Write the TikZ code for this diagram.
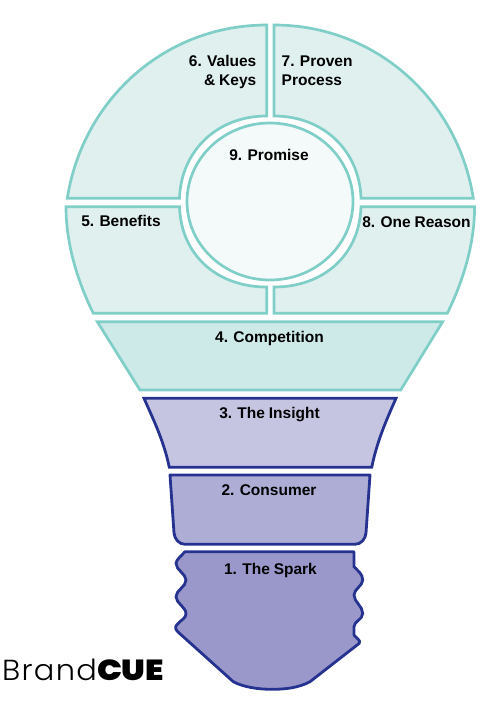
\documentclass[tikz,border=0pt]{standalone}
\usepackage{xcolor}
\usepackage{fontspec}
\setmainfont{Liberation Sans}[BoldFont={Liberation Sans Bold}, WordSpace=0.9]
\newfontfamily\brandlight{Poppins Light}[LetterSpace=4.5, FakeStretch=1.05]
\newfontfamily\brandblack{Poppins Black}[FakeStretch=1.14]
\usepackage{tikz}
\usetikzlibrary{positioning, shapes.geometric}
\definecolor{tealline}{HTML}{7FCFC8}
\definecolor{tealfill}{HTML}{DFF0EF}
\definecolor{tealdark}{HTML}{CDEAE8}
\definecolor{tealpale}{HTML}{F3FAF9}
\definecolor{navyline}{HTML}{26328F}
\definecolor{insightfill}{HTML}{C5C5E2}
\definecolor{consumerfill}{HTML}{AEADD6}
\definecolor{sparkfill}{HTML}{9A98CA}
\tikzset{
  bulbpart/.style={draw=tealline, line width=2.7pt, line join=miter},
  basepart/.style={draw=navyline, line width=2.8pt, line join=round},
  partlabel/.style={inner sep=0pt, anchor=base, font=\bfseries\fontsize{15.5}{19}\selectfont}
}

\begin{document}
\begin{tikzpicture}[x=1pt, y=-1pt]
    \useasboundingbox (0,0) rectangle (500,716);
    % glass
    \draw[bulbpart, fill=tealfill] (67.3,198.3) .. controls (83,98.5) and (165.7,25) .. (266.7,25)
      -- (266.7,116) .. controls (217,116) and (181,151) .. (179.5,198.3) -- cycle;
    \draw[bulbpart, fill=tealfill] (473.3,198.3) .. controls (457.6,98.5) and (374.9,25) .. (274,25)
      -- (274,116) .. controls (323.6,116) and (359.6,151) .. (361,198.3) -- cycle;
    \draw[bulbpart, fill=tealfill] (66,206.7) .. controls (66,245) and (78,282) .. (93.3,313.3)
      -- (266.7,313.3) -- (266.7,287) .. controls (217,287) and (181,255) .. (179.5,206.7) -- cycle;
    \draw[bulbpart, fill=tealfill] (474.6,206.7) .. controls (474.6,245) and (462.6,282) .. (447.3,313.3)
      -- (274,313.3) -- (274,287) .. controls (323.6,287) and (359.6,255) .. (361,206.7) -- cycle;
    \node[ellipse, bulbpart, fill=tealpale, minimum width=166pt, minimum height=157pt, inner sep=0pt] (promisecircle) at (270,201.5) {};
    \draw[bulbpart, fill=tealdark] (97.3,321.7) -- (442.7,321.7) -- (400.7,390) -- (140,390) -- cycle;
    % base
    \draw[basepart, fill=insightfill, line join=miter] (144,398.3) -- (396,398.3)
      .. controls (385,423) and (377,442) .. (371.7,467.3) -- (169.3,467.3)
      .. controls (164,442) and (155,423) .. (144,398.3) -- cycle;
    \draw[basepart, fill=consumerfill] (170,475) -- (370,475) -- (366,533)
      .. controls (365.5,539) and (361,544.3) .. (355,544.3) -- (185,544.3)
      .. controls (179,544.3) and (174.5,539) .. (174,533) -- cycle;
    \draw[basepart, fill=sparkfill] (185,551.7) -- (354,551.7) -- (354,566.7)
      .. controls (358,571) and (362.7,574) .. (362.7,580)
      .. controls (362.7,586) and (354,589) .. (354,595)
      .. controls (354,602) and (362.7,606) .. (362.7,613.3)
      .. controls (362.7,620) and (354,621) .. (354,626.7)
      -- (354,635) .. controls (356,638) and (361,640) .. (359.3,643.3)
      -- (310,681.7) .. controls (298,688) and (285,689.3) .. (271.7,689.3)
      .. controls (258,689.3) and (243,687) .. (233.3,681.7)
      -- (178,632) .. controls (175,629) and (175,627) .. (177,624.5)
      .. controls (181,620) and (186,618) .. (186,614)
      .. controls (186,607) and (176,603) .. (176,596.7)
      .. controls (176,590) and (186,587) .. (186,580)
      .. controls (186,574) and (176,570) .. (176,563.3)
      .. controls (176,560) and (182,555) .. (185,551.7) -- cycle;
    % labels
    \node[partlabel] (spark) at (270.5,574) {1. The Spark};
    \node[partlabel] (consumer) at (269,495) {2. Consumer};
    \node[partlabel] (insight) at (269.5,418.5) {3. The Insight};
    \node[partlabel] (competition) at (269.5,342) {4. Competition};
    \node[partlabel] (benefits) at (121,226.5) {5. Benefits};
    \node[partlabel, anchor=base east] (valuesa) at (256.5,66.5) {6. Values};
    \node[partlabel, anchor=base east] (valuesb) at (256.5,85.7) {\& Keys};
    \node[partlabel, anchor=base west] (provena) at (281.5,66.5) {7. Proven};
    \node[partlabel, anchor=base west] (provenb) at (281.5,85.7) {Process};
    \node[partlabel] (reason) at (416.5,227) {8. One Reason};
    \node[partlabel] (promise) at (269,160.5) {9. Promise};
    % logo
    \node[inner sep=0pt, anchor=base west, font=\fontsize{29}{30}\selectfont] (brand) at (2,680) {\brandlight Brand\brandblack CUE};
  \end{tikzpicture}
\end{document}
